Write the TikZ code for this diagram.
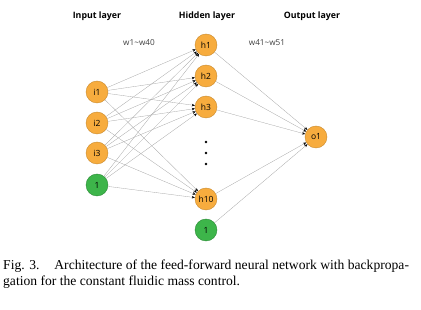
\documentclass[tikz,border=0pt]{standalone}
\usepackage{fontspec}
\setmainfont{Liberation Serif}
\newfontfamily\labelfont{Open Sans}
\usetikzlibrary{arrows.meta}
\definecolor{nodeorange}{HTML}{F7AC3E}
\definecolor{orangeedge}{HTML}{C98A2E}
\definecolor{nodegreen}{HTML}{3DB54A}
\definecolor{greenedge}{HTML}{2A8A36}
\tikzset{
  neuron/.style={circle, minimum size=22pt, inner sep=0pt, line width=0.4pt, font=\labelfont\fontsize{8.5}{10}\selectfont},
  orangeneuron/.style={neuron, fill=nodeorange, draw=orangeedge},
  greenneuron/.style={neuron, fill=nodegreen, draw=greenedge},
  conn/.style={draw=gray!70, line width=0.3pt, -{Stealth[length=3.2pt,width=2.6pt,black]}},
  title/.style={font=\labelfont\bfseries\fontsize{8.8}{10}\selectfont},
  wlabel/.style={font=\labelfont\fontsize{8.2}{10}\selectfont, text=black!75},
  dotnode/.style={circle, fill=black, inner sep=0pt, minimum size=2.8pt},
  captionline/.style={font=\fontsize{13.6}{16}\selectfont, anchor=base west, inner sep=0pt}
}
\begin{document}
\begin{tikzpicture}[x=1pt,y=-1pt]
\useasboundingbox (0,0) rectangle (421,310);
% titles
\node[title] (tin) at (97,16) {Input layer};
\node[title] (thid) at (207,16) {Hidden layer};
\node[title] (tout) at (312,16) {Output layer};
\node[wlabel] (w1) at (139,43) {w1\textasciitilde w40};
\node[wlabel] (w2) at (267,43) {w41\textasciitilde w51};
% input
\node[orangeneuron] (i1) at (97,92) {i1};
\node[orangeneuron] (i2) at (97,123) {i2};
\node[orangeneuron] (i3) at (97,153) {i3};
\node[greenneuron] (b1) at (97,185) {1};
% hidden
\node[orangeneuron] (h1) at (206,45) {h1};
\node[orangeneuron] (h2) at (206,76) {h2};
\node[orangeneuron] (h3) at (206,107) {h3};
\node[orangeneuron] (h10) at (206,199) {h10};
\node[greenneuron] (b2) at (206,230) {1};
\node[dotnode] (d1) at (206,142) {};
\node[dotnode] (d2) at (206,153) {};
\node[dotnode] (d3) at (206,164) {};
% output
\node[orangeneuron] (o1) at (316,137) {o1};
% connections
\foreach \s in {i1,i2,i3,b1}{
  \foreach \t in {h1,h2,h3,h10}{
    \draw[conn] (\s) -- (\t);
  }
}
\foreach \s in {h1,h2,h3,h10,b2}{
  \draw[conn] (\s) -- (o1);
}
% caption
\node[captionline] (c1) at (3,270) {Fig. 3.\hspace{1.1em}Architecture of the feed-forward neural network with backpropa-};
\node[captionline] (c2) at (3,286) {gation for the constant fluidic mass control.};
\end{tikzpicture}
\end{document}
